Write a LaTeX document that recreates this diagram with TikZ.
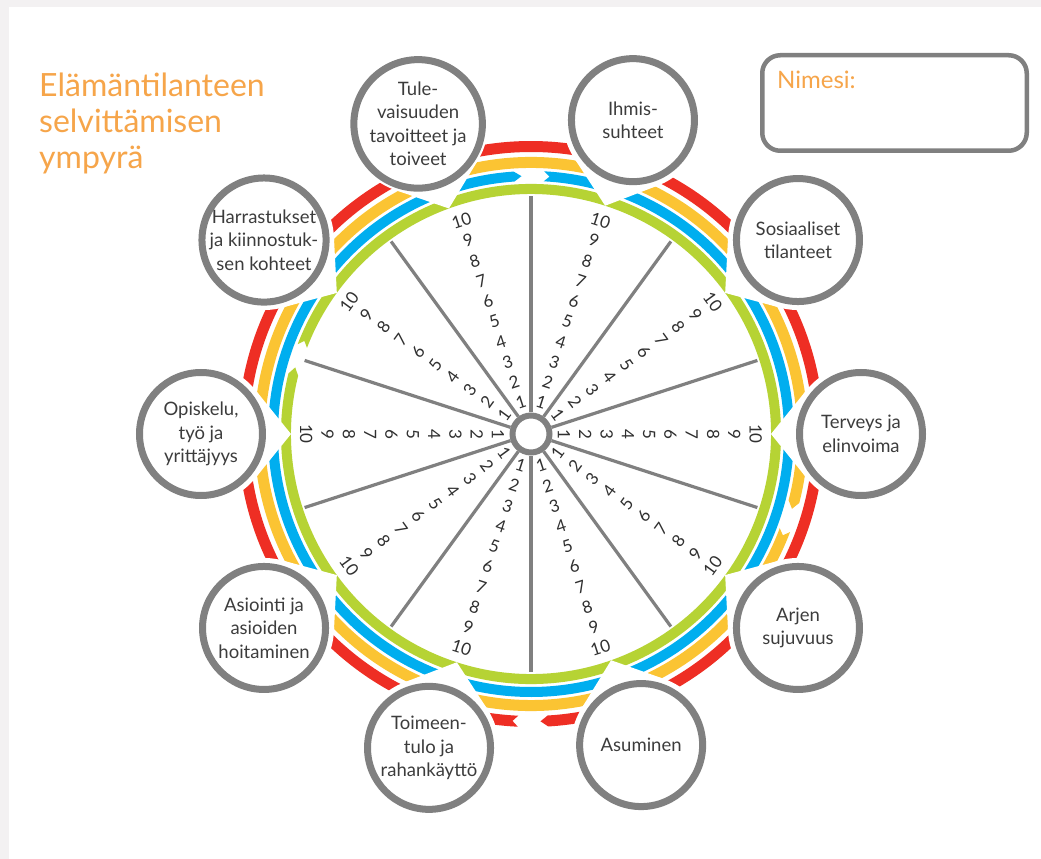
\documentclass[tikz,border=0pt]{standalone}
\usepackage{fontspec}
\setmainfont{Lato}

\definecolor{ringred}{HTML}{EE2E24}
\definecolor{ringyellow}{HTML}{FBC433}
\definecolor{ringblue}{HTML}{00AEEF}
\definecolor{ringgreen}{HTML}{B6D334}
\definecolor{wheelgray}{HTML}{808080}
\definecolor{labelgray}{HTML}{3C3C3C}
\definecolor{numgray}{HTML}{303030}
\definecolor{titleorange}{HTML}{F6A54A}
\definecolor{pagegray}{HTML}{F3F1F2}

% one ring band: colour, inner radius, outer radius, angle of its gap
\newcommand{\ringband}[4]{%
  \pgfmathsetmacro{\rmid}{(#2+#3)/2}
  \pgfmathsetmacro{\tailA}{#4-13/\rmid*57.2958}
  \pgfmathsetmacro{\notchA}{#4-18.5/\rmid*57.2958}
  \pgfmathsetmacro{\headA}{#4+17/\rmid*57.2958-360}
  \pgfmathsetmacro{\tipA}{#4+9.5/\rmid*57.2958-360}
  \fill[#1] (\tailA:#3pt) arc[start angle=\tailA, end angle=\headA, radius=#3pt]
    -- (\tipA:\rmid pt) -- (\headA:#2pt)
    arc[start angle=\headA, end angle=\tailA, radius=#2pt]
    -- (\notchA:\rmid pt) -- cycle;
}
\newcommand{\topicangles}{0,36,72,110,144,180,216,252,289.5,324}

\tikzset{
  topic/.style={circle, draw=wheelgray, line width=7pt, fill=white,
    minimum size=123pt, inner sep=0pt, align=center, text=labelgray,
    font=\fontsize{18.5}{23.5}\selectfont},
  num/.style={inner sep=0pt, text=numgray, font=\fontsize{17}{17}\selectfont},
  spoke/.style={draw=wheelgray, line width=3.2pt},
  hub/.style={circle, draw=wheelgray, line width=6pt, fill=white,
    minimum size=37pt, inner sep=0pt},
  namebox/.style={draw=wheelgray, line width=4.5pt, rounded corners=18pt,
    fill=white, minimum width=264.5pt, minimum height=95.5pt},
  title/.style={anchor=north west, align=left, inner sep=0pt,
    text=titleorange, font=\fontsize{32}{36}\selectfont}
}

\begin{document}
\begin{tikzpicture}[x=1pt, y=1pt]
    % page
    \useasboundingbox (-531,-425) rectangle (510,434);
    \fill[pagegray] (-531,-425) rectangle (510,434);
    \fill[white] (-522,-425) rectangle (510,427);

    % coloured rings, each a clockwise arrow
    \ringband{ringgreen}{240}{250}{162}
    \ringband{ringblue}{253}{263}{90}
    \ringband{ringyellow}{266}{277}{-18}
    \ringband{ringred}{282}{293}{270}

    % white notches under the topic circles
    \foreach \a in \topicangles{
        \begin{scope}[rotate=\a]
            \fill[white] (240,0) -- (275.6,44) -- (330,0) -- (275.6,-44) -- cycle;
            \fill[white] (330,0) circle[radius=70pt];
        \end{scope}
    }

    % spokes
    \node[hub] (hub) at (0,0) {};
    \foreach \s in {18,54,...,342}{
        \coordinate (spokeend\s) at (\s:238);
        \draw[spoke] (hub) -- (spokeend\s);
    }

    % scales 1..10
    \foreach \a in {0,36,...,324}{
        \pgfmathsetmacro{\rot}{mod(\a,180)-90}
        \foreach \k in {1,...,10}
            \node[num, rotate=\rot] (num\a-\k) at (\a:{33+21.3*(\k-1)}) {\k};
    }

    % topics
    \foreach \a/\txt [count=\i] in {
        0/{Terveys ja\\elinvoima},
        36/{Sosiaaliset\\tilanteet},
        72/{Ihmis-\\suhteet},
        110/{Tule-\\vaisuuden\\tavoitteet ja\\toiveet},
        144/{Harrastukset\\ja kiinnostuk-\\sen kohteet},
        180/{Opiskelu,\\työ ja\\yrittäjyys},
        216/{Asiointi ja\\asioiden\\hoitaminen},
        252/{Toimeen-\\tulo ja\\rahankäyttö},
        289.5/{Asuminen},
        324/{Arjen\\sujuvuus}}
        \node[topic] (topic\i) at (\a:330) {\txt};

    % title and name field
    \node[title] (title) at (-492,361) {Elämäntilanteen\\selvittämisen\\ympyrä};
    \node[namebox] (box) at (363.5,331) {};
    \node[anchor=base west, inner sep=0pt, text=titleorange,
        font=\fontsize{24}{24}\selectfont] (nimesi) at (246,345.7) {Nimesi:};
\end{tikzpicture}
\end{document}
